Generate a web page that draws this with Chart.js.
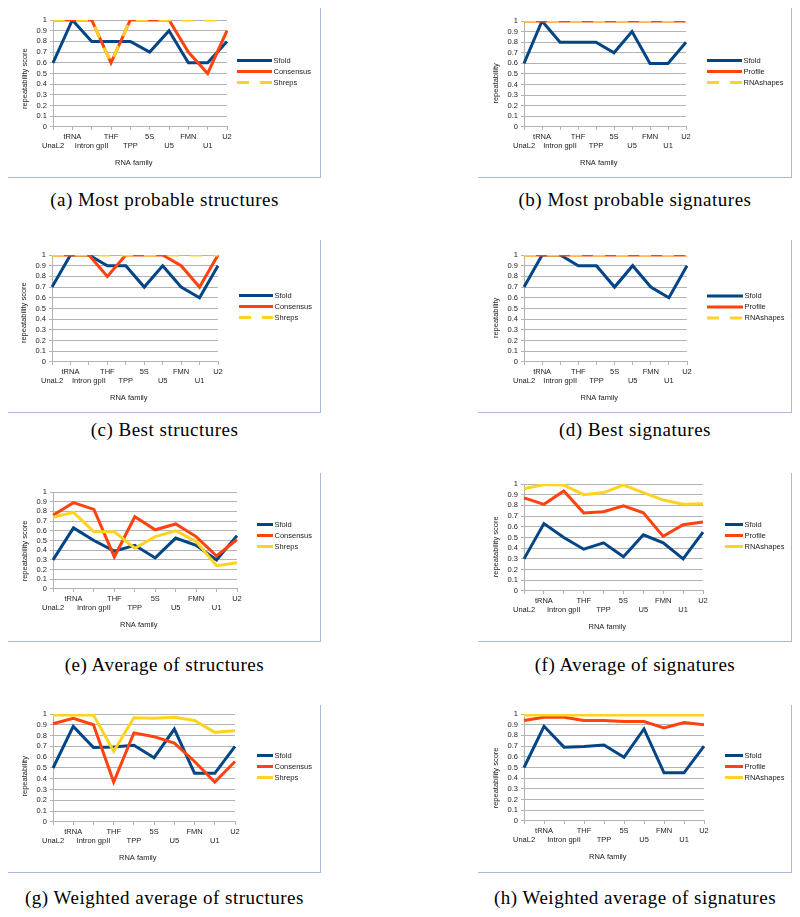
<!DOCTYPE html>
<html>
<head>
<meta charset="utf-8">
<script src="https://cdn.jsdelivr.net/npm/chart.js@4.4.1/dist/chart.umd.min.js"></script>
<style>
  body { margin: 0; background: #fff; }
  #page { position: relative; width: 800px; height: 917px; overflow: hidden; }
  .box { position: absolute; box-sizing: border-box; border-right: 1px solid #a9bbd9; border-bottom: 1px solid #a9bbd9; }
  .plot { position: absolute; }
  .cap { position: absolute; width: 400px; text-align: center; font-family: 'Liberation Serif', serif; font-size: 19px; line-height: 19px; letter-spacing: 0.5px; color: #000; white-space: nowrap; }
</style>
</head>
<body>
<div id="page"></div>
<script>
// RNA families on the x axis
const families = ['UnaL2', 'tRNA', 'Intron gpII', 'THF', 'TPP', '5S', 'U5', 'FMN', 'U1', 'U2'];
const yTickLabels = ['0', '0.1', '0.2', '0.3', '0.4', '0.5', '0.6', '0.7', '0.8', '0.9', '1'];

const structureMethods = ['Sfold', 'Consensus', 'Shreps'];
const signatureMethods = ['Sfold', 'Profile', 'RNAshapes'];

// (a) / (b) most probable
const sfoldMostProbable = [0.6, 1, 0.8, 0.8, 0.8, 0.7, 0.9, 0.6, 0.6, 0.8];
const consensusMostProbable = [1, 1, 1, 0.6, 1, 1, 1, 0.7, 0.5, 0.9];
const shrepsMostProbable = [1, 1, 1, 0.6, 1, 1, 1, 1, 1, 1];
const profileMostProbable = [1, 1, 1, 1, 1, 1, 1, 1, 1, 1];
const rnashapesMostProbable = [1, 1, 1, 1, 1, 1, 1, 1, 1, 1];

// (c) / (d) best
const sfoldBest = [0.7, 1, 1, 0.9, 0.9, 0.7, 0.9, 0.7, 0.6, 0.9];
const consensusBest = [1, 1, 1, 0.8, 1, 1, 1, 0.9, 0.7, 1];
const shrepsBest = [1, 1, 1, 1, 1, 1, 1, 1, 1, 1];
const profileBest = [1, 1, 1, 1, 1, 1, 1, 1, 1, 1];
const rnashapesBest = [1, 1, 1, 1, 1, 1, 1, 1, 1, 1];

// (e) / (f) average
const sfoldAverage = [0.3, 0.63, 0.5, 0.39, 0.45, 0.32, 0.525, 0.45, 0.3, 0.55];
const consensusAverage = [0.76, 0.89, 0.82, 0.33, 0.745, 0.61, 0.67, 0.54, 0.34, 0.51];
const shrepsAverage = [0.74, 0.79, 0.59, 0.59, 0.42, 0.54, 0.6, 0.49, 0.24, 0.27];
const profileAverage = [0.87, 0.81, 0.935, 0.73, 0.74, 0.795, 0.73, 0.51, 0.62, 0.645];
const rnashapesAverage = [0.955, 0.995, 0.99, 0.9, 0.92, 0.99, 0.92, 0.85, 0.81, 0.815];

// (g) / (h) weighted average
const sfoldWeighted = [0.5, 0.885, 0.69, 0.695, 0.71, 0.595, 0.86, 0.45, 0.45, 0.7];
const consensusWeighted = [0.91, 0.96, 0.9, 0.37, 0.825, 0.79, 0.73, 0.56, 0.37, 0.56];
const shrepsWeighted = [0.99, 0.99, 0.99, 0.655, 0.965, 0.96, 0.97, 0.94, 0.83, 0.845];
const profileWeighted = [0.94, 0.97, 0.97, 0.94, 0.94, 0.93, 0.93, 0.87, 0.92, 0.9];
const rnashapesWeighted = [0.99, 0.99, 0.99, 0.99, 0.99, 0.99, 0.99, 0.99, 0.99, 0.99];

const captions = ['(a) Most probable structures', '(b) Most probable signatures', '(c) Best structures', '(d) Best signatures',
  '(e) Average of structures', '(f) Average of signatures', '(g) Weighted average of structures', '(h) Weighted average of signatures'];

const colors = ['#004586', '#ff420e', '#ffd320'];
const gridGray = '#b3b3b3';
const DASH = [12, 11];

// layout of the 8 panels: box = frame, pad = chart padding inside the canvas,
// legend = [gap after plot, line length, vertical shift], yShift = title nudge
const panels = [
  {box: [8, 8, 313, 170], capTop: 189.5, yTitle: 'repeatability score', yShift: 5, names: structureMethods, series: [sfoldMostProbable, consensusMostProbable, shrepsMostProbable], dashed: true, pad: {left: 8.6, right: 94, top: 12, bottom: 5}, legend: [10, 35, -2]},
  {box: [478, 8, 314, 170], capTop: 189.5, yTitle: 'repeatability', yShift: 9, names: signatureMethods, series: [sfoldMostProbable, profileMostProbable, rnashapesMostProbable], dashed: true, pad: {left: 9.6, right: 106, top: 13, bottom: 5}, legend: [21, 35, -2.5]},
  {box: [8, 240, 313, 173], capTop: 420, yTitle: 'repeatability score', yShift: 4, names: structureMethods, series: [sfoldBest, consensusBest, shrepsBest], dashed: true, pad: {left: 7.6, right: 103, top: 15, bottom: 5}, legend: [21, 34, -2]},
  {box: [478, 240, 314, 173], capTop: 420, yTitle: 'repeatability', yShift: 9, names: signatureMethods, series: [sfoldBest, profileBest, rnashapesBest], dashed: true, pad: {left: 9.6, right: 105, top: 15, bottom: 5}, legend: [20, 36, -1.5]},
  {box: [8, 473, 313, 169], capTop: 655, yTitle: 'repeatability score', yShift: 10, names: structureMethods, series: [sfoldAverage, consensusAverage, shrepsAverage], dashed: false, pad: {left: 8.6, right: 84, top: 19, bottom: 7}, legend: [20, 16, -5]},
  {box: [478, 473, 314, 169], capTop: 655, yTitle: 'repeatability score', yShift: 9, names: signatureMethods, series: [sfoldAverage, profileAverage, rnashapesAverage], dashed: false, pad: {left: 9.6, right: 89, top: 11, bottom: 5}, legend: [22, 18, -2]},
  {box: [8, 705, 313, 168], capTop: 888, yTitle: 'repeatability', yShift: 8, names: structureMethods, series: [sfoldWeighted, consensusWeighted, shrepsWeighted], dashed: false, pad: {left: 8.6, right: 86, top: 9, bottom: 5}, legend: [22, 16, -1.5]},
  {box: [478, 705, 314, 168], capTop: 888, yTitle: 'repeatability score', yShift: 10, names: signatureMethods, series: [sfoldWeighted, profileWeighted, rnashapesWeighted], dashed: false, pad: {left: 9.6, right: 88, top: 9, bottom: 6}, legend: [21, 18, -1]}
];

Chart.defaults.font.family = 'Liberation Sans';
Chart.defaults.font.size = 7.5;
Chart.defaults.color = '#222';

// staggered labels: even index on the lower row, odd on the upper row
const xLabels = families.map((f, i) => i % 2 ? [f, ''] : ['', f]);

// legend drawn beside the plot, one line sample + name per dataset
const sideLegend = {
  id: 'sideLegend',
  afterDraw(chart, args, opts) {
    const {ctx, chartArea} = chart;
    const [gap, len, dy] = opts.swatch;
    const mid = (chartArea.top + chartArea.bottom) / 2 + dy;
    ctx.save();
    ctx.font = '7.5px "Liberation Sans"';
    ctx.textBaseline = 'middle';
    ctx.textAlign = 'left';
    chart.data.datasets.forEach((d, i) => {
      const y = mid + (i - 1) * 11;
      const x0 = chartArea.right + gap;
      ctx.strokeStyle = d.borderColor;
      ctx.lineWidth = 3;
      ctx.setLineDash(d.borderDash);
      ctx.beginPath();
      ctx.moveTo(x0, y);
      ctx.lineTo(x0 + len, y);
      ctx.stroke();
      ctx.setLineDash([]);
      ctx.fillStyle = '#222';
      ctx.fillText(d.label, x0 + len + 1.5, y);
    });
    ctx.restore();
  }
};

const page = document.getElementById('page');

panels.forEach((p, n) => {
  const [bx, by, bw, bh] = p.box;
  const box = document.createElement('div');
  box.className = 'box';
  box.style.cssText = `left:${bx}px;top:${by}px;width:${bw}px;height:${bh}px`;
  page.appendChild(box);

  const canvas = document.createElement('canvas');
  canvas.className = 'plot';
  canvas.width = bw;
  canvas.height = bh - 1;
  canvas.style.cssText = `left:${bx}px;top:${by}px;width:${bw}px;height:${bh - 1}px`;
  page.appendChild(canvas);

  const cap = document.createElement('div');
  cap.className = 'cap';
  cap.textContent = captions[n];
  cap.style.cssText = `left:${bx + bw / 2 - 200}px;top:${p.capTop}px`;
  page.appendChild(cap);

  const datasets = p.series.map((data, i) => ({
    label: p.names[i],
    data: data,
    borderColor: colors[i],
    backgroundColor: colors[i],
    borderWidth: 3,
    borderDash: (p.dashed && i === 2) ? DASH : [],
    pointRadius: 0,
    tension: 0,
    order: 3 - i
  }));

  new Chart(canvas.getContext('2d'), {
    type: 'line',
    data: {labels: xLabels, datasets: datasets},
    plugins: [sideLegend],
    options: {
      responsive: false,
      animation: false,
      devicePixelRatio: 1,
      layout: {padding: p.pad},
      plugins: {
        tooltip: {enabled: false},
        legend: {display: false},
        sideLegend: {swatch: p.legend}
      },
      scales: {
        x: {
          offset: false,
          grid: {display: true, drawOnChartArea: false, tickLength: 3, color: gridGray},
          border: {color: gridGray},
          ticks: {autoSkip: false, maxRotation: 0, minRotation: 0, padding: 2, font: {size: 7.5, lineHeight: 1.27}},
          // trailing blanks nudge the title a little left, like the original
          title: {display: true, text: 'RNA family' + ' '.repeat(6), padding: {top: 5, bottom: 5}}
        },
        y: {
          min: 0,
          max: 1,
          grid: {color: gridGray, tickLength: 3},
          border: {color: gridGray},
          ticks: {stepSize: 0.1, autoSkip: false, padding: 3, callback: (v, i) => yTickLabels[i]},
          title: {display: true, text: p.yTitle + ' '.repeat(p.yShift), padding: {top: 4, bottom: 4}}
        }
      }
    }
  });
});
</script>
</body>
</html>
